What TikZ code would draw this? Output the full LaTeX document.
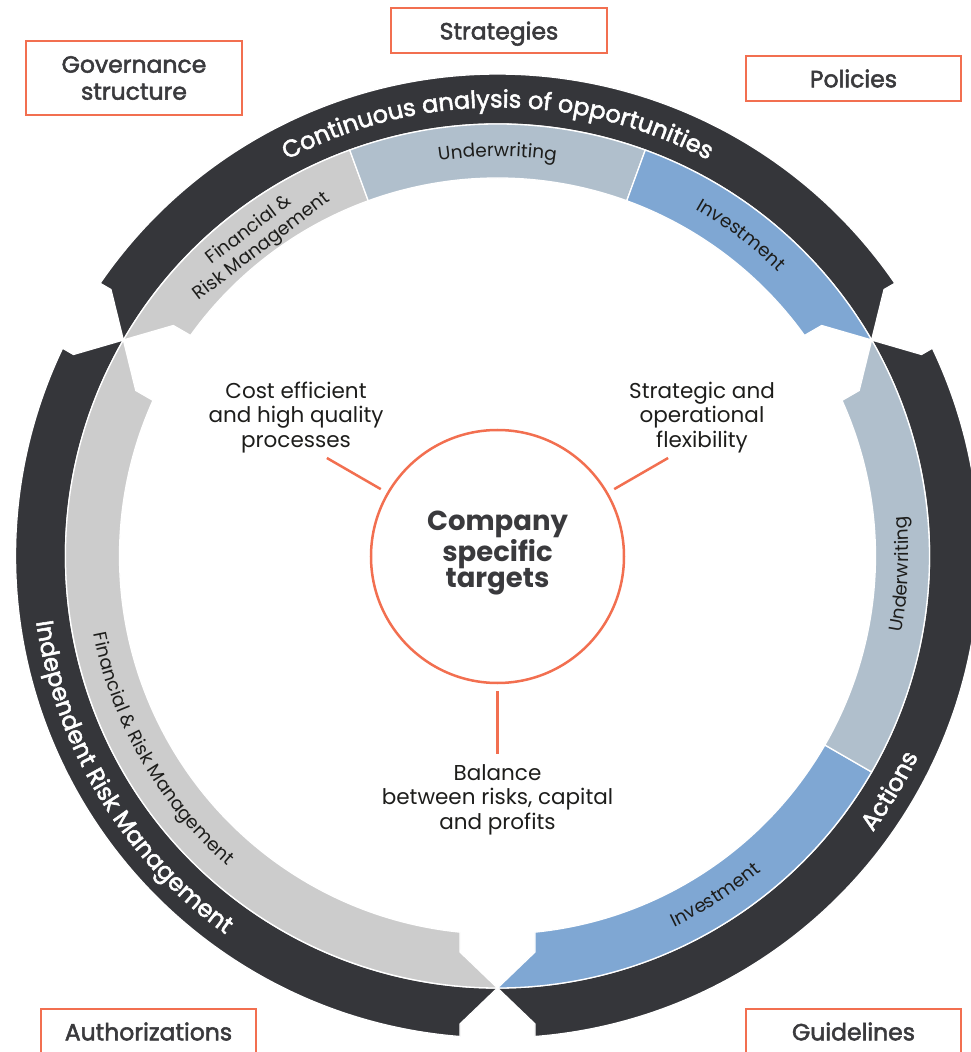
\documentclass[tikz,border=0pt]{standalone}
\usepackage{fontspec}
\setmainfont{Poppins}
\newfontfamily\medfont{Poppins}[FakeBold=2.2]
\usetikzlibrary{decorations.text,calc}
\definecolor{dark}{HTML}{35363A}
\definecolor{lgrey}{HTML}{CCCCCC}
\definecolor{uw}{HTML}{B0BFCC}
\definecolor{inv}{HTML}{7FA7D3}
\definecolor{orng}{HTML}{F26F50}
\definecolor{txt}{HTML}{3A3A3D}
\definecolor{ink}{HTML}{1D1D1B}
\newcommand\bandfont{\fontsize{24}{28}\medfont}
\newcommand\segfont{\fontsize{18.5}{21}\selectfont}
\begin{document}
\begin{tikzpicture}[x=1pt,y=1pt,
  seg/.style={draw=white,line width=1.3pt},
  lbl/.style={draw=orng,line width=2.2pt,fill=white,minimum width=215pt,minimum height=45pt,inner sep=0pt,font=\fontsize{23.5}{27}\medfont,text=txt,align=center},
  note/.style={font=\fontsize{21.5}{24.5}\selectfont,text=ink,align=center,inner sep=0pt},
  conn/.style={draw=orng,line width=2.5pt},
  segtxt/.style={font=\segfont,text=ink,inner sep=0pt,align=center},
  curvedark/.style={decorate,decoration={text along path,text align=center,text={|\bandfont\color{white}|#1}}},
  curveseg/.style={decorate,decoration={text along path,text align=center,text={|\segfont\color{ink}|#1}}},
]
\useasboundingbox (-497.5,-496) rectangle (472.5,556);

% ---- top sector (30..150)
\filldraw[fill=dark,seg] (30:432) -- (34.581:469.5) -- (34.462:482) arc[start angle=34.462,end angle=145.538,radius=482] -- (145.419:469.5) -- (150:432) arc[start angle=150,end angle=30,radius=432] -- cycle;
\filldraw[fill=lgrey,seg] (110:432) arc[start angle=110,end angle=150,radius=432] -- (144.59:397.8) -- (144.306:378) arc[start angle=144.306,end angle=110,radius=378] -- cycle;
\filldraw[fill=uw,seg] (70:432) arc[start angle=70,end angle=110,radius=432] -- (110:378) arc[start angle=110,end angle=70,radius=378] -- cycle;
\filldraw[fill=inv,seg] (30:432) arc[start angle=30,end angle=70,radius=432] -- (70:378) arc[start angle=70,end angle=35.694,radius=378] -- (35.41:397.8) -- cycle;

% ---- right sector (-90..30)
\filldraw[fill=dark,seg] (-90:432) -- (-85.419:469.5) -- (-85.538:482) arc[start angle=-85.538,end angle=25.538,radius=482] -- (25.419:469.5) -- (30:432) arc[start angle=30,end angle=-90,radius=432] -- cycle;
\filldraw[fill=inv,seg] (-90:432) arc[start angle=-90,end angle=-30,radius=432] -- (-30:378) arc[start angle=-30,end angle=-84.306,radius=378] -- (-84.59:397.8) -- cycle;
\filldraw[fill=uw,seg] (-30:432) arc[start angle=-30,end angle=30,radius=432] -- (24.59:397.8) -- (24.306:378) arc[start angle=24.306,end angle=-30,radius=378] -- cycle;

% ---- left sector (150..270)
\filldraw[fill=dark,seg] (150:432) -- (154.581:469.5) -- (154.462:482) arc[start angle=154.462,end angle=265.538,radius=482] -- (265.419:469.5) -- (270:432) arc[start angle=270,end angle=150,radius=432] -- cycle;
\filldraw[fill=lgrey,seg] (150:432) arc[start angle=150,end angle=270,radius=432] -- (264.59:397.8) -- (264.306:378) arc[start angle=264.306,end angle=155.694,radius=378] -- (155.41:397.8) -- cycle;

% ---- curved labels
\path[curvedark={Continuous analysis of opportunities}] (150:448.5) arc[start angle=150,end angle=30,radius=448.5];
\path[curvedark={Independent Risk Management}] (181.2:466) arc[start angle=181.2,end angle=241.2,radius=466];
\path[curvedark={Actions}] (-50.9:466) arc[start angle=-50.9,end angle=-10.9,radius=466];
\path[curveseg={Underwriting}] (110:399.5) arc[start angle=110,end angle=70,radius=399.5];
\path[curveseg={Investment}] (72.8:399.5) arc[start angle=72.8,end angle=32.8,radius=399.5];
\path[curveseg={Underwriting}] (-22.6:411) arc[start angle=-22.6,end angle=17.4,radius=411];
\path[curveseg={Investment}] (-77.3:411) arc[start angle=-77.3,end angle=-37.3,radius=411];
\path[curveseg={Financial {\&} Risk Management}] (179.9:411) arc[start angle=179.9,end angle=239.9,radius=411];
\node[segtxt,rotate=37.3] (fin) at (127.3:399) {Financial \&\\Risk Management};

% ---- boxes
\node[lbl,minimum width=216pt,minimum height=74pt] (gov) at (-363.5,478) {Governance\\structure};
\node[lbl,minimum width=216pt,text depth=0pt] (str) at (1.5,525.5) {Strategies};
\node[lbl] (pol) at (356,477.5) {Policies};
\node[lbl] (aut) at (-349,-475.5) {Authorizations};
\node[lbl] (gui) at (356,-475.5) {Guidelines};

% ---- centre
\node[circle,draw=orng,line width=2.5pt,minimum size=253pt,inner sep=0pt] (ctr) at (0,-0.5) {};
\node[font=\fontsize{27.5}{26.7}\bfseries,text=txt,align=center,inner sep=0pt] (ctrtxt) at (0,2.6) {Company\\specific\\targets};
\node[note] (n1) at (-201.5,138.5) {Cost efficient\\and high quality\\processes};
\node[note] (n2) at (204.5,138.5) {Strategic and\\operational\\flexibility};
\node[note] (n3) at (0,-243.5) {Balance\\between risks, capital\\and profits};
\coordinate (e1) at ($(ctr.center)+(150:197)$);
\coordinate (e2) at ($(ctr.center)+(30:197)$);
\coordinate (e3) at ($(ctr.center)+(270:197)$);
\draw[conn,shorten <=7pt] (ctr.150) -- (e1);
\draw[conn,shorten <=7pt] (ctr.30) -- (e2);
\draw[conn,shorten <=7pt] (ctr.270) -- (e3);
\end{tikzpicture}
\end{document}
